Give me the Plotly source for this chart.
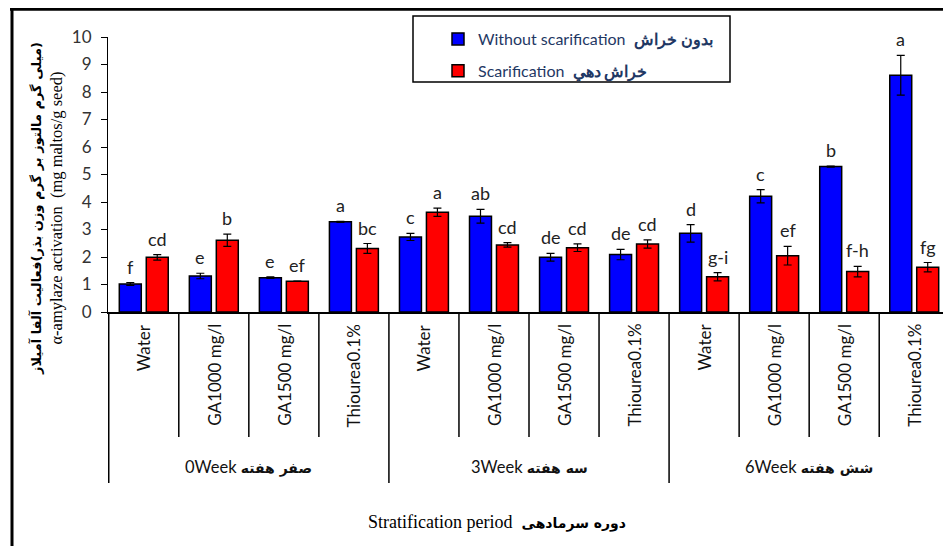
import plotly.graph_objects as go

# ---------------- data ----------------
groups = ["0Week", "3Week", "6Week"]
groups_fa = ["صفر هفته", "سه هفته", "شش هفته"]
treatments = ["Water", "GA1000 mg/l", "GA1500 mg/l", "Thiourea0.1%"]

without_vals = [1.02, 1.31, 1.25, 3.28, 2.73, 3.48, 1.99, 2.09, 2.86, 4.21, 5.29, 8.61]
without_err = [0.05, 0.10, 0.03, 0.02, 0.13, 0.25, 0.14, 0.19, 0.32, 0.24, 0.02, 0.72]
without_letters = ["f", "e", "e", "a", "c", "ab", "de", "de", "d", "c", "b", "a"]

scar_vals = [1.99, 2.61, 1.12, 2.31, 3.63, 2.44, 2.34, 2.47, 1.28, 2.05, 1.47, 1.63]
scar_err = [0.10, 0.22, 0.00, 0.18, 0.15, 0.08, 0.14, 0.15, 0.15, 0.34, 0.19, 0.17]
scar_letters = ["cd", "b", "ef", "bc", "a", "cd", "cd", "cd", "g-i", "ef", "f-h", "fg"]

name_without = "Without scarification  <b>بدون خراش</b>"
name_scar = "Scarification  <b>خراش دهي</b>"
y_title_fa = "\u200f(میلی گرم مالتوز بر گرم وزن بذر)فعالیت آلفا آمیلاز"
y_title_en = "α-amylaze activation  (mg maltos/g seed)"
x_title_en = "Stratification period"
x_title_fa = "دوره سرمادهی"

# ---------------- geometry ----------------
# The page body keeps its default 8px margin, so the figure is laid out
# in window pixels minus that offset.
OFF = 8
W, H = 951, 546
PLOT_L, PLOT_R, PLOT_T, PLOT_B = 108, 950, 37, 312      # window pixels
L, T = PLOT_L - OFF, PLOT_T - OFF
R, B = W - (PLOT_R - OFF), H - (PLOT_B - OFF)
PW, PH = PLOT_R - PLOT_L, PLOT_B - PLOT_T


def px2x(px):
    return (px - PLOT_L) / PW


def py2y(py):
    return (PLOT_B - py) / PH


cats = [f"{g} | {t}" for g in groups for t in treatments]

LATIN = "Lato, sans-serif"
FA = "DejaVu Sans"
SERIF = "Liberation Serif, Times New Roman, serif"

fig = go.Figure()
fig.add_trace(go.Bar(
    x=cats, y=without_vals, name=name_without, legendgroup="a",
    marker=dict(color="#0000FF", line=dict(color="black", width=1.5)),
    error_y=dict(type="data", array=without_err, color="black", thickness=1.2, width=4),
))
fig.add_trace(go.Bar(
    x=cats, y=scar_vals, name=name_scar, legendgroup="b",
    marker=dict(color="#FF0000", line=dict(color="black", width=1.5)),
    error_y=dict(type="data", array=scar_err, color="black", thickness=1.2, width=4),
))

ann = []
# significance letters
for vals, errs, labs, shift in ((without_vals, without_err, without_letters, -13.5),
                                (scar_vals, scar_err, scar_letters, 13.5)):
    for c, v, e, lab in zip(cats, vals, errs, labs):
        ann.append(dict(x=c, y=v + e, xref="x", yref="y", text=lab, showarrow=False,
                        xshift=shift, yshift=3, yanchor="bottom",
                        font=dict(family=LATIN, size=18, color="#222222")))

# treatment labels (rotated)
for c, t in zip(cats, [t for g in groups for t in treatments]):
    ann.append(dict(x=c, y=py2y(322), xref="x", yref="paper", text=t, textangle=-90,
                    showarrow=False, xanchor="center", yanchor="top",
                    font=dict(family=LATIN, size=17, color="#111111")))

# group labels
for gi, (g, gfa) in enumerate(zip(groups, groups_fa)):
    mid = gi * len(treatments) + (len(treatments) - 1) / 2
    ann.append(dict(x=mid, y=py2y(467), xref="x", yref="paper",
                    text=f"{g} <span style=\"font-family:{FA};font-weight:bold;font-size:14px\">{gfa}</span>",
                    showarrow=False, xanchor="center", yanchor="middle",
                    font=dict(family=LATIN, size=16.5, color="#111111")))

# y axis title
ann.append(dict(x=px2x(47), y=py2y(209), xref="paper", yref="paper",
                text=(f"<span style=\"font-family:{FA};font-weight:bold;font-size:13px\">{y_title_fa}</span><br>"
                      f"<span style=\"font-family:{SERIF}\">{y_title_en}</span>"),
                textangle=-90, showarrow=False, xanchor="center", yanchor="middle",
                font=dict(family=SERIF, size=16.5, color="black")))

# x axis title
ann.append(dict(x=px2x(497), y=py2y(522), xref="paper", yref="paper",
                text=(f"{x_title_en}  <span style=\"font-family:{FA};font-weight:bold;font-size:14px\">{x_title_fa}</span>"),
                showarrow=False, xanchor="center", yanchor="middle",
                font=dict(family=SERIF, size=18, color="black")))

shapes = []
n = len(cats)
for i in range(n + 1):
    is_group = (i % len(treatments) == 0)
    shapes.append(dict(type="line", xref="x", yref="paper", x0=i - 0.5, x1=i - 0.5,
                       y0=0, y1=py2y(483 if is_group else 437),
                       line=dict(color="black", width=1.5)))
# outer frame: left and top edges
top_y = round(py2y(9.2), 4)
shapes.append(dict(type="line", xref="paper", yref="paper", x0=px2x(10), x1=px2x(W + 10),
                   y0=top_y, y1=top_y, line=dict(color="black", width=3)))
shapes.append(dict(type="line", xref="paper", yref="paper", x0=px2x(12), x1=px2x(12),
                   y0=round(py2y(8), 4), y1=round(py2y(H + 10), 4), line=dict(color="black", width=3)))
# legend box
shapes.append(dict(type="rect", xref="paper", yref="paper", x0=px2x(413), x1=px2x(730),
                   y0=py2y(82), y1=py2y(16), line=dict(color="black", width=1.5),
                   fillcolor="white", layer="above"))

fig.update_layout(
    width=W, height=H,
    margin=dict(l=L, r=R, t=T, b=B),
    paper_bgcolor="white", plot_bgcolor="white",
    barmode="group", bargap=0.23, bargroupgap=0.185,
    showlegend=True,
    legend=dict(x=px2x(438), y=py2y(22), xanchor="left", yanchor="top",
                bgcolor="rgba(0,0,0,0)", borderwidth=0, tracegroupgap=8,
                font=dict(family=LATIN, size=16, color="#1F3864")),
    xaxis=dict(type="category", categoryarray=cats, showticklabels=False,
               showline=True, linecolor="black", linewidth=1.5, ticks="",
               showgrid=False, zeroline=False),
    yaxis=dict(range=[0, 10], dtick=1, showline=True, linecolor="black", linewidth=1,
               ticks="outside", ticklen=6, tickcolor="black", showgrid=False, zeroline=False,
               ticklabelstandoff=6,
               tickfont=dict(family=LATIN, size=17, color="#333333")),
    annotations=ann, shapes=shapes,
)

fig.write_html("out.html", config={"displayModeBar": False})
